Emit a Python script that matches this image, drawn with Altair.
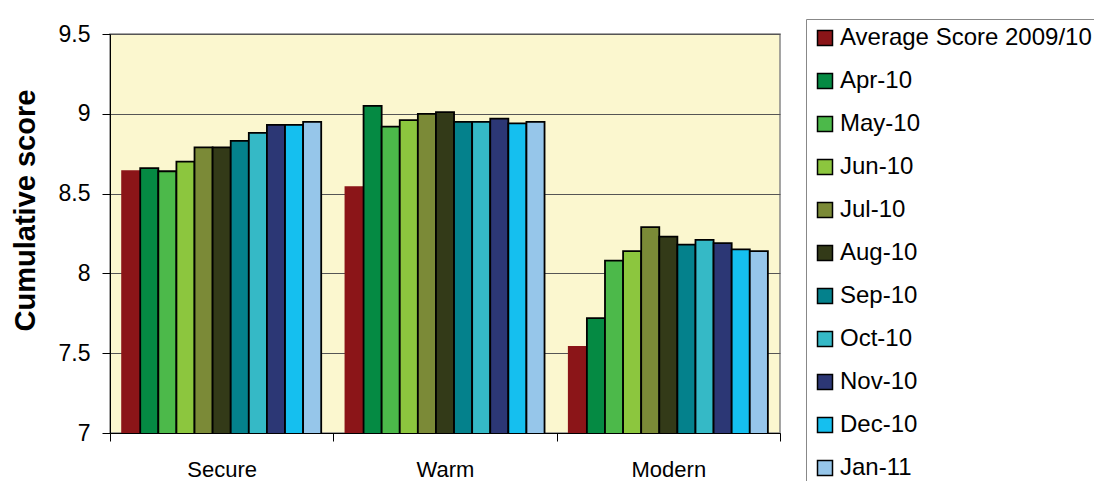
import altair as alt
import pandas as pd

groups = ["Secure", "Warm", "Modern"]
series = ["Average Score 2009/10", "Apr-10", "May-10", "Jun-10", "Jul-10", "Aug-10",
          "Sep-10", "Oct-10", "Nov-10", "Dec-10", "Jan-11"]
colors = ["#8B1518", "#058A43", "#4CB94A", "#8CC63E", "#7B8A37", "#333A18",
          "#04818C", "#35B9C6", "#2C3775", "#15BFEF", "#96C6EA"]

secure = [8.64, 8.66, 8.64, 8.70, 8.79, 8.79, 8.83, 8.88, 8.93, 8.93, 8.95]
warm = [8.54, 9.05, 8.92, 8.96, 9.00, 9.01, 8.95, 8.95, 8.97, 8.94, 8.95]
modern = [7.54, 7.72, 8.08, 8.14, 8.29, 8.23, 8.18, 8.21, 8.19, 8.15, 8.14]

rows = []
for g, vals in zip(groups, [secure, warm, modern]):
    for s, v in zip(series, vals):
        rows.append({"group": g, "series": s, "score": v})
df = pd.DataFrame(rows)

chart = alt.Chart(df).mark_bar(strokeWidth=1.8, clip=True).encode(
    x=alt.X("group:N", sort=groups, title=None,
            scale=alt.Scale(paddingInner=0, paddingOuter=0),
            axis=alt.Axis(labelAngle=0, tickBand="extent", tickSize=8,
                          labelPadding=18, labelFontSize=22, domainColor="black",
                          tickColor="black", labelColor="black", grid=False)),
    xOffset=alt.XOffset("series:N", sort=series,
                        scale=alt.Scale(paddingInner=0, paddingOuter=0.67)),
    y=alt.Y("score:Q", title="Cumulative score",
            scale=alt.Scale(domain=[7, 9.5], nice=False, zero=False),
            axis=alt.Axis(values=[7, 7.5, 8, 8.5, 9, 9.5], format="~g",
                          tickSize=8, labelPadding=12, labelFontSize=23,
                          titleFontSize=29, titleFontWeight="bold",
                          titlePadding=18, titleY=176, grid=True, gridColor="#555555",
                          gridWidth=1, domainColor="black", tickColor="black",
                          labelColor="black", titleColor="black")),
    color=alt.Color("series:N", sort=series,
                    scale=alt.Scale(domain=series, range=colors),
                    legend=alt.Legend(title=None, orient="none", legendX=696,
                                      legendY=-15, padding=7, strokeColor="#888888",
                                      fillColor="white", labelFontSize=24,
                                      rowPadding=19, symbolSize=225,
                                      symbolType="square", symbolStrokeColor="black",
                                      symbolStrokeWidth=1.5, labelOffset=3,
                                      labelLimit=500, labelColor="black")),
    stroke=alt.condition(alt.datum.series == "Average Score 2009/10",
                         alt.value("#8B1518"), alt.value("black")),
).properties(
    width=670, height=399,
    padding={"left": 110, "top": 34, "right": 314, "bottom": 48},
    autosize=alt.AutoSizeParams(type="none"),
).configure(
    font="Liberation Sans",
).configure_view(
    fill="#FBF7CF", stroke="#888888", strokeWidth=1.5,
)

chart.save("out.html", embed_options={"renderer": "svg", "actions": False})
